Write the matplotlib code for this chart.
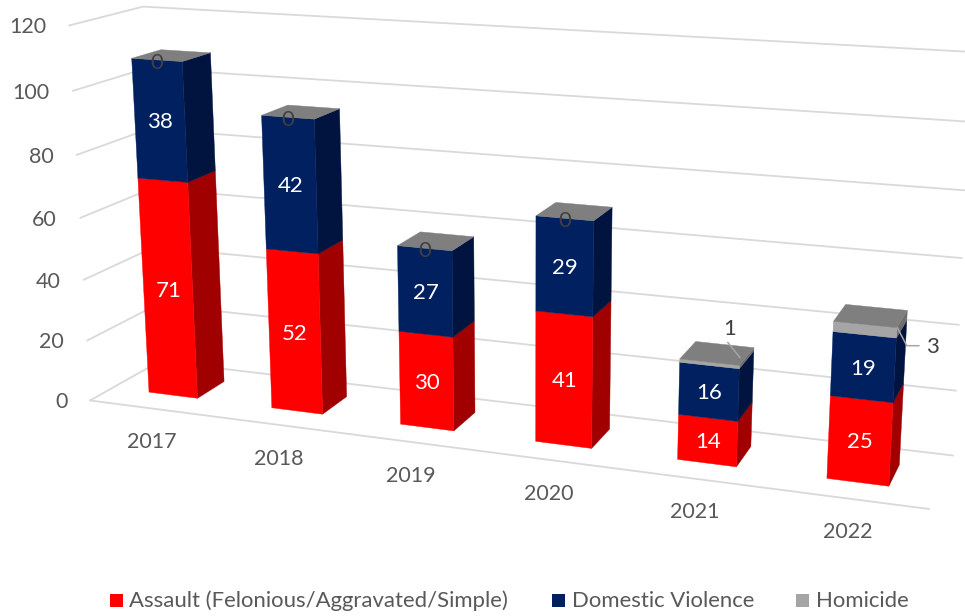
import numpy as np
import matplotlib
matplotlib.use("Agg")
import matplotlib.pyplot as plt
from matplotlib.patches import Polygon, Rectangle

plt.rcParams['font.family'] = ['Lato', 'DejaVu Sans']

# ---- data ----
years = ['2017', '2018', '2019', '2020', '2021', '2022']
assault = [71, 52, 30, 41, 14, 25]
domestic = [38, 42, 27, 29, 16, 19]
homicide = [0, 0, 0, 0, 1, 3]
value_ticks = [0, 20, 40, 60, 80, 100, 120]
series_names = ['Assault (Felonious/Aggravated/Simple)', 'Domestic Violence', 'Homicide']

FRONT = ['#FF0000', '#002060', '#A5A5A5']
SIDE = ['#A00000', '#00143F', '#6E6E6E']
TOP = '#7F7F7F'
GRID = '#D9D9D9'
TEXT = '#595959'

totals = [a + d + h for a, d, h in zip(assault, domestic, homicide)]

# ---- camera calibration: the chart is a perspective view, fitted from reference landmarks ----
# plot box edges in pixels, one landmark per value tick (0, 20, ... 120)
EDGE_FRONT = [(90.8, 400.7), (87.3, 340.7), (83.3, 280), (79.3, 218), (75.7, 155), (71.7, 91), (67.7, 26)]
EDGE_BACK_L = [(159, 361.7), (156.5, 304.6), (154, 247), (151.5, 187.9), (149, 129.2), (146.5, 68.4), (144, 6.7)]
EDGE_BACK_R = [(953, 455), (957, 390.7), (960, 325), (963, 258.8), (966, 190.8), (968, 121.9), (970, 51)]
FR0 = (929, 509)  # front-right floor corner
# bar corners: (bar, side, height index, depth flag, px, py); height 0 = floor, 1 = bar top
BAR = [(0, -1, 0, 0, 149, 392.3), (0, 1, 0, 0, 197.7, 398.3), (0, 1, 0, 1, 224, 381.7),
       (0, -1, 1, 0, 131.7, 58), (0, 1, 1, 0, 182.7, 61), (0, 1, 1, 1, 210, 52.7), (0, -1, 1, 1, 161.7, 49.3),
       (1, -1, 0, 0, 271.7, 408), (1, 1, 0, 0, 322.7, 414), (1, 1, 0, 1, 346.7, 396.7),
       (1, -1, 1, 0, 261.7, 115), (1, -1, 1, 1, 288.3, 105),
       (2, -1, 0, 0, 400.3, 424.3), (2, 1, 0, 0, 454, 430.3), (2, 1, 0, 1, 475, 412.3),
       (2, -1, 1, 0, 397.3, 245.7), (2, 1, 1, 0, 452.3, 251), (2, 1, 1, 1, 473.3, 237.3), (2, -1, 1, 1, 420, 232),
       (3, -1, 0, 0, 535.3, 441), (3, 1, 0, 0, 591.7, 448.3), (3, 1, 0, 1, 609.3, 429),
       (3, -1, 1, 0, 536, 215.7), (3, 1, 1, 0, 593.3, 220.7), (3, 1, 1, 1, 612, 207.7), (3, -1, 1, 1, 555, 202.7),
       (4, -1, 0, 0, 677.7, 459.3), (4, 1, 0, 0, 736.3, 466.3), (4, 1, 0, 1, 751, 446.7),
       (4, -1, 1, 0, 680, 360), (4, 1, 1, 0, 739.3, 368.3), (4, 1, 1, 1, 754, 348.3), (4, -1, 1, 1, 695.7, 341.7),
       (5, -1, 0, 0, 827, 478.3), (5, 1, 0, 0, 889.3, 485.7), (5, 1, 0, 1, 900, 462.7),
       (5, -1, 1, 0, 833.7, 321.3), (5, 1, 1, 0, 896, 326.7), (5, 1, 1, 1, 907.7, 310.7), (5, -1, 1, 1, 845.7, 304.3)]

BW, Z0, Z1 = 0.40, 0.0, 1.0  # bar width in category units; bar depth runs 0..1 in its own camera
N_CAT, V_MAX = len(years), value_ticks[-1]


def fit3d(pts):
    pts = np.array(pts, float)
    X = np.c_[pts[:, 0] / N_CAT, pts[:, 1] / V_MAX, pts[:, 2], np.ones(len(pts))]
    u, v = pts[:, 3] / 1000, pts[:, 4] / 1000
    A = np.zeros((2 * len(pts), 12))
    A[0::2, 0:4] = X
    A[0::2, 8:12] = -X * u[:, None]
    A[1::2, 4:8] = X
    A[1::2, 8:12] = -X * v[:, None]
    return np.linalg.svd(A)[2][-1].reshape(3, 4)


def fit2d(pts):
    A = []
    for a, b, (u, v) in pts:
        u, v = u / 1000, v / 1000
        A.append([a, b, 1, 0, 0, 0, -u * a, -u * b, -u])
        A.append([0, 0, 0, a, b, 1, -v * a, -v * b, -v])
    return np.linalg.svd(np.array(A, float))[2][-1].reshape(3, 3)


ticks01 = [v / V_MAX for v in value_ticks]
P_BAR = fit3d([(i + 0.5 + s * BW / 2, totals[i] * h, Z1 if d else Z0, u, v) for i, s, h, d, u, v in BAR])
H_LEFT = fit2d([(t, 0, p) for t, p in zip(ticks01, EDGE_FRONT)] +
               [(t, 1, p) for t, p in zip(ticks01, EDGE_BACK_L)])  # (value/max, depth)
H_BACK = fit2d([(0, t, p) for t, p in zip(ticks01, EDGE_BACK_L)] +
               [(1, t, p) for t, p in zip(ticks01, EDGE_BACK_R)])  # (x/n, value/max)


def project(x, y, z):
    q = P_BAR @ np.array([x / N_CAT, y / V_MAX, z, 1.0])
    return q[0] / q[2] * 1000, q[1] / q[2] * 1000


def apply(H, a, b):
    q = H @ np.array([a, b, 1.0])
    return q[0] / q[2] * 1000, q[1] / q[2] * 1000


# ---- figure ----
fig = plt.figure(figsize=(9.65, 6.16), dpi=100)
ax = fig.add_axes([0, 0, 1, 1])
ax.set_xlim(0, 965)
ax.set_ylim(616, 0)
ax.axis('off')

FS = 16

# walls
for v in value_ticks:
    t = v / V_MAX
    pts = [apply(H_LEFT, t, 0), apply(H_LEFT, t, 1), apply(H_BACK, 1, t)]
    ax.plot(*zip(*pts), color=GRID, lw=1.3, zorder=1, solid_capstyle='butt')
    px, py = pts[0]
    ax.text(px - 22.5, py + 1.5, str(v), ha='right', va='center', fontsize=15.5, color=TEXT)
ax.plot(*zip(apply(H_LEFT, 0, 0), FR0), color=GRID, lw=1.3, zorder=1)


def face(corners, color, z=2):
    ax.add_patch(Polygon([project(*c) for c in corners], closed=True, facecolor=color,
                         edgecolor=color, lw=0.3, zorder=z))


# bars
for i, year in enumerate(years):
    xl, xr = i + 0.5 - BW / 2, i + 0.5 + BW / 2
    xc = i + 0.5
    base = 0
    for k, vals in enumerate((assault, domestic, homicide)):
        val = vals[i]
        top = base + val
        if val > 0:
            face([(xr, base, Z0), (xr, base, Z1), (xr, top, Z1), (xr, top, Z0)], SIDE[k])
            face([(xl, base, Z0), (xr, base, Z0), (xr, top, Z0), (xl, top, Z0)], FRONT[k], 3)
        base = top
    face([(xl, base, Z0), (xr, base, Z0), (xr, base, Z1), (xl, base, Z1)], TOP, 3)

    # data labels
    base = 0
    for vals in (assault, domestic):
        val = vals[i]
        px, py = project(xc, base + val / 2, Z0)
        ax.text(px + 0.5, py + 1.5, str(val), ha='center', va='center', fontsize=FS, color='white', zorder=5)
        base += val
    h = homicide[i]
    if h == 0:
        px, py = project(xc, base, Z0)
        ax.text(px, py + 3, '0', ha='center', va='center', fontsize=FS, color='#404040', zorder=5)

    # category label
    px, py = project(xc, 0, Z0)
    ax.text(px - 21 + 2.2 * i, py + 47 + 0.6 * i, year, ha='center', va='center', fontsize=15.5, color=TEXT)

# leader-line labels for the non-zero homicide counts
ax_x, ax_y = project(4.5 + BW / 2, totals[4], Z0)
ax.plot([ax_x + 0.5, ax_x - 11.5], [ax_y - 8, ax_y - 23], color='#A6A6A6', lw=1.1, zorder=6)
ax.text(ax_x - 10, ax_y - 36, str(homicide[4]), ha='center', va='center', fontsize=FS, color='#404040')
bx, by = project(5.5 + BW / 2, totals[5], Z0)
ax.plot([bx + 0.5, bx + 10, bx + 22], [by, by + 18, by + 18], color='#A6A6A6', lw=1.1, zorder=6)
ax.text(bx + 36, by + 19, str(homicide[5]), ha='center', va='center', fontsize=FS, color='#404040')

# legend
for name, col, xs, xt in zip(series_names, FRONT, (110, 552, 796), (129, 572, 816)):
    ax.add_patch(Rectangle((xs, 594), 13, 13, facecolor=col, edgecolor='none'))
    ax.text(xt, 601, name, ha='left', va='center', fontsize=15.9, color=TEXT)

fig.savefig('out.png', dpi=100)
